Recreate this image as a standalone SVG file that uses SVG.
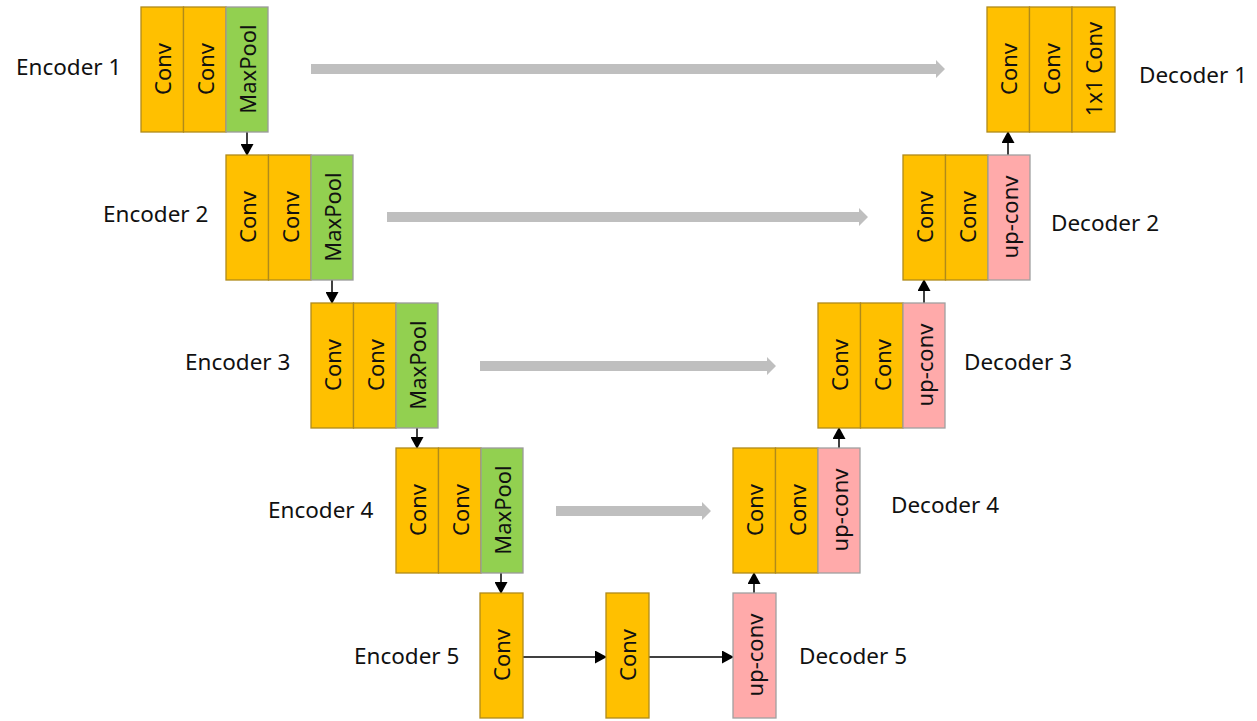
<svg xmlns="http://www.w3.org/2000/svg" width="1257" height="721" viewBox="0 0 1257 721">
<style>
.o{fill:#FFC000;stroke:#B08A1A;stroke-width:1.3}
.g{fill:#92D050;stroke:#9a9a9a;stroke-width:1.3}
.p{fill:#FFAAAA;stroke:#a0a0a0;stroke-width:1.3}
.t{font-family:"Noto Sans","DejaVu Sans",sans-serif;font-size:22.5px;fill:#111}
.c{font-family:"Noto Sans","DejaVu Sans",sans-serif;font-size:22px;fill:#111;text-anchor:middle;dominant-baseline:central}
.sk{fill:#BFBFBF}
.ar{stroke:#000;stroke-width:1.5;fill:none}
</style>
<defs>
<marker id="ah" markerWidth="12" markerHeight="13" refX="11" refY="6.5" orient="auto" markerUnits="userSpaceOnUse">
<path d="M0,0 L12,6.5 L0,13 Z" fill="#000"/>
</marker>
</defs>

<g id="connectors">
<path class="sk" d="M311,64 H936 V60 L945,69 L936,78 V74 H311 Z"/>
<path class="sk" d="M387,212 H859 V208 L868,217 L859,226 V222 H387 Z"/>
<path class="sk" d="M480,361 H767 V357 L776,366 L767,375 V371 H480 Z"/>
<path class="sk" d="M556,506 H702 V502 L711,511 L702,520 V516 H556 Z"/>
<line class="ar" x1="247" y1="132" x2="247" y2="155" marker-end="url(#ah)"/>
<line class="ar" x1="332" y1="280" x2="332" y2="303" marker-end="url(#ah)"/>
<line class="ar" x1="417" y1="428" x2="417" y2="448" marker-end="url(#ah)"/>
<line class="ar" x1="501" y1="573" x2="501" y2="593" marker-end="url(#ah)"/>
<line class="ar" x1="523" y1="657" x2="606" y2="657" marker-end="url(#ah)"/>
<line class="ar" x1="649" y1="657" x2="733" y2="657" marker-end="url(#ah)"/>
<line class="ar" x1="754" y1="593" x2="754" y2="573" marker-end="url(#ah)"/>
<line class="ar" x1="839" y1="448" x2="839" y2="428" marker-end="url(#ah)"/>
<line class="ar" x1="924" y1="303" x2="924" y2="280" marker-end="url(#ah)"/>
<line class="ar" x1="1008" y1="155" x2="1008" y2="132" marker-end="url(#ah)"/>
</g>

<g id="encoder1">
<rect class="o" x="141" y="7" width="42.5" height="125"/>
<rect class="o" x="183.5" y="7" width="42.5" height="125"/>
<rect class="g" x="226" y="7" width="42" height="125"/>
<text class="c" transform="translate(162,69) rotate(-90)">Conv</text>
<text class="c" transform="translate(205,69) rotate(-90)">Conv</text>
<text class="c" transform="translate(247,69) rotate(-90)">MaxPool</text>
<text class="t" x="16" y="75">Encoder 1</text>
</g>

<g id="encoder2">
<rect class="o" x="226" y="155" width="42.5" height="125"/>
<rect class="o" x="268.5" y="155" width="42.5" height="125"/>
<rect class="g" x="311" y="155" width="42" height="125"/>
<text class="c" transform="translate(247,217) rotate(-90)">Conv</text>
<text class="c" transform="translate(290,217) rotate(-90)">Conv</text>
<text class="c" transform="translate(332,217) rotate(-90)">MaxPool</text>
<text class="t" x="103" y="222">Encoder 2</text>
</g>

<g id="encoder3">
<rect class="o" x="311" y="303" width="42.5" height="125"/>
<rect class="o" x="353.5" y="303" width="42.5" height="125"/>
<rect class="g" x="396" y="303" width="42" height="125"/>
<text class="c" transform="translate(332,365) rotate(-90)">Conv</text>
<text class="c" transform="translate(375,365) rotate(-90)">Conv</text>
<text class="c" transform="translate(417,365) rotate(-90)">MaxPool</text>
<text class="t" x="185" y="370">Encoder 3</text>
</g>

<g id="encoder4">
<rect class="o" x="396" y="448" width="42.5" height="125"/>
<rect class="o" x="438.5" y="448" width="42.5" height="125"/>
<rect class="g" x="481" y="448" width="42" height="125"/>
<text class="c" transform="translate(417,510) rotate(-90)">Conv</text>
<text class="c" transform="translate(460,510) rotate(-90)">Conv</text>
<text class="c" transform="translate(502,510) rotate(-90)">MaxPool</text>
<text class="t" x="268" y="518">Encoder 4</text>
</g>

<g id="encoder5">
<rect class="o" x="480" y="593" width="43" height="125"/>
<text class="c" transform="translate(501,655) rotate(-90)">Conv</text>
<text class="t" x="354" y="664">Encoder 5</text>
</g>

<g id="bottleneck">
<rect class="o" x="606" y="593" width="43" height="125"/>
<text class="c" transform="translate(627,655) rotate(-90)">Conv</text>
</g>

<g id="decoder5">
<rect class="p" x="733" y="593" width="43" height="125"/>
<text class="c" transform="translate(754,655) rotate(-90)">up-conv</text>
<text class="t" x="799" y="664">Decoder 5</text>
</g>

<g id="decoder4">
<rect class="o" x="733" y="448" width="42.5" height="125"/>
<rect class="o" x="775.5" y="448" width="42.5" height="125"/>
<rect class="p" x="818" y="448" width="42" height="125"/>
<text class="c" transform="translate(754,510) rotate(-90)">Conv</text>
<text class="c" transform="translate(797,510) rotate(-90)">Conv</text>
<text class="c" transform="translate(839,510) rotate(-90)">up-conv</text>
<text class="t" x="891" y="513">Decoder 4</text>
</g>

<g id="decoder3">
<rect class="o" x="818" y="303" width="42.5" height="125"/>
<rect class="o" x="860.5" y="303" width="42.5" height="125"/>
<rect class="p" x="903" y="303" width="42" height="125"/>
<text class="c" transform="translate(839,365) rotate(-90)">Conv</text>
<text class="c" transform="translate(882,365) rotate(-90)">Conv</text>
<text class="c" transform="translate(924,365) rotate(-90)">up-conv</text>
<text class="t" x="964" y="370">Decoder 3</text>
</g>

<g id="decoder2">
<rect class="o" x="903" y="155" width="42.5" height="125"/>
<rect class="o" x="945.5" y="155" width="42.5" height="125"/>
<rect class="p" x="988" y="155" width="42" height="125"/>
<text class="c" transform="translate(924,217) rotate(-90)">Conv</text>
<text class="c" transform="translate(967,217) rotate(-90)">Conv</text>
<text class="c" transform="translate(1009,217) rotate(-90)">up-conv</text>
<text class="t" x="1051" y="231">Decoder 2</text>
</g>

<g id="decoder1">
<rect class="o" x="987" y="7" width="42.5" height="125"/>
<rect class="o" x="1029.5" y="7" width="42.5" height="125"/>
<rect class="o" x="1072" y="7" width="43" height="125"/>
<text class="c" transform="translate(1008,69) rotate(-90)">Conv</text>
<text class="c" transform="translate(1051,69) rotate(-90)">Conv</text>
<text class="c" transform="translate(1093,69) rotate(-90)">1x1 Conv</text>
<text class="t" x="1139" y="83">Decoder 1</text>
</g>
</svg>
